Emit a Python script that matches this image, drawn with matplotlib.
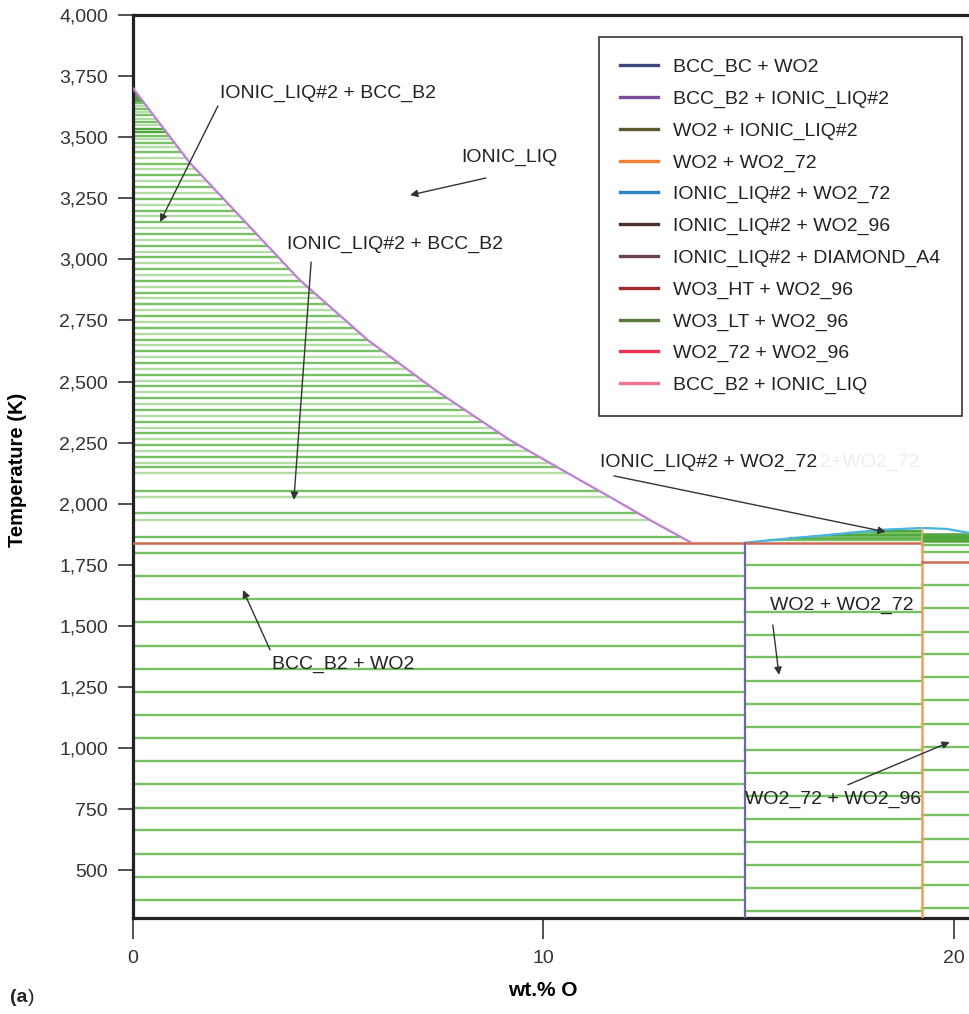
import numpy as np
import matplotlib
matplotlib.use("Agg")
import matplotlib.pyplot as plt
from matplotlib.lines import Line2D
from matplotlib.ticker import FuncFormatter
from matplotlib import font_manager as fm

# ---------------- data ----------------
# liquidus of the (IONIC_LIQ#2 + BCC_B2) region
liq_x = [0.0, 1.39, 4.06, 5.72, 7.36, 9.18, 10.89, 11.62, 12.59, 13.57]
liq_T = [3700, 3394, 2916, 2670, 2466, 2261, 2097, 2028, 1934, 1844]

# liquidus of WO2_72 region
wo72_x = [14.9, 15.1, 17.22, 18.2, 19.24, 19.83, 20.37]
wo72_T = [1840, 1844, 1877, 1893, 1901, 1897, 1881]

eutectic_T = 1840
wo2_x = 14.9          # BCC_B2 + WO2 / WO2 + WO2_72 boundary
wo72_comp = 19.22     # WO2 + WO2_72 / WO2_72 + WO2_96 boundary
wo3_ht_T = 1763       # horizontal line in the right region

# tie-lines (temperatures, K)
tie_liq = [3690, 3682, 3674, 3666, 3658, 3650, 3640, 3628, 3616, 3604, 3590,
           3576, 3562, 3548, 3534, 3520, 3506, 3492, 3478, 3460, 3440,
           3416, 3392, 3368, 3344, 3320, 3296, 3272, 3248, 3224, 3200, 3176,
           3152, 3128, 3104, 3080, 3056, 3032, 3008, 2984, 2960, 2936, 2912,
           2888, 2864, 2840, 2816, 2792, 2768, 2744, 2720, 2696, 2672, 2648,
           2624, 2600, 2576, 2552, 2528, 2504, 2480, 2456, 2432, 2408, 2384,
           2360, 2336, 2312, 2288, 2264, 2240, 2216, 2192, 2168, 2149, 2125,
           2054, 2029, 1961, 1934, 1865]
tie_left = [1797, 1705, 1609, 1515, 1420, 1325, 1230, 1136, 1041, 947, 852,
            757, 664, 567, 474, 379]
tie_mid = [1750, 1655, 1559, 1464, 1371, 1276, 1182, 1088, 994, 900, 804,
           709, 616, 520, 426, 332]
tie_right = [1832, 1804, 1668, 1575, 1477, 1385, 1293, 1195, 1100, 1006, 912,
             819, 725, 630, 534, 440, 344]
tie_72_liq = [1850, 1858, 1866, 1874, 1882, 1890]
tie_right_liq = [1846, 1852, 1858, 1864, 1870, 1876]

yticks = [500, 750, 1000, 1250, 1500, 1750, 2000, 2250, 2500, 2750, 3000,
          3250, 3500, 3750, 4000]
xticks = [0, 10, 20]

legend_labels = ["BCC_BC + WO2", "BCC_B2 + IONIC_LIQ#2", "WO2 + IONIC_LIQ#2",
                 "WO2 + WO2_72", "IONIC_LIQ#2 + WO2_72", "IONIC_LIQ#2 + WO2_96",
                 "IONIC_LIQ#2 + DIAMOND_A4", "WO3_HT + WO2_96", "WO3_LT + WO2_96",
                 "WO2_72 + WO2_96", "BCC_B2 + IONIC_LIQ"]
legend_colors = ["#3b4880", "#7b4c9c", "#5c5a2c", "#f08232", "#2a82c8",
                 "#4a3028", "#6c4252", "#a3282c", "#5a7a3a", "#f0304f", "#f07494"]

# annotations: text, text position (x, T), arrow start, arrow end
annots = [
    ("IONIC_LIQ#2 + BCC_B2", (2.12, 3681), (2.07, 3628), (0.66, 3153)),
    ("IONIC_LIQ", (8.01, 3419), (8.60, 3333), (6.75, 3263)),
    ("IONIC_LIQ#2 + BCC_B2", (3.75, 3063), (4.34, 2989), (3.92, 2016)),
    ("IONIC_LIQ#2 + WO2_72", (11.38, 2171), (11.72, 2114), (18.34, 1885)),
    ("BCC_B2 + WO2", (3.39, 1344), (3.34, 1402), (2.68, 1647)),
    ("WO2 + WO2_72", (15.52, 1586), (15.59, 1504), (15.74, 1300)),
    ("WO2_72 + WO2_96", (14.91, 792), (17.42, 850), (19.90, 1025)),
]

# ---------------- fonts ----------------
names = {f.name for f in fm.fontManager.ttflist}
if "Liberation Sans Narrow" in names:
    FAM, FS = "Liberation Sans Narrow", 17
else:
    FAM, FS = "Liberation Sans", 14
plt.rcParams["font.family"] = [FAM, "DejaVu Sans"]
plt.rcParams["text.color"] = "#222222"

# ---------------- figure ----------------
W, H = 969, 1014
fig = plt.figure(figsize=(W / 100, H / 100), dpi=100)
ax = fig.add_axes([133 / W, 96 / H, (W - 133) / W, (999 - 96) / H])
ax.set_xlim(0, 20.37)
ax.set_ylim(305, 4000)

GREEN_D = "#76c164"
GREEN_L = "#b3dda6"
GREEN_DK = "#4ea63c"

# liquid + BCC tie lines
rT = liq_T[::-1]
rx = liq_x[::-1]
for i, T in enumerate(tie_liq):
    xe = np.interp(T, rT, rx)
    if T >= 3650 or 3515 <= T <= 3535:
        c = GREEN_DK
    else:
        c = GREEN_D if i % 2 == 0 else GREEN_L
    ax.plot([0, xe], [T, T], color=c, lw=1.7, zorder=2, solid_capstyle="butt")

for T in tie_left:
    ax.plot([0, wo2_x], [T, T], color=GREEN_D, lw=1.7, zorder=2)
for T in tie_mid:
    ax.plot([wo2_x, wo72_comp], [T, T], color=GREEN_D, lw=1.7, zorder=2)
for T in tie_right:
    ax.plot([wo72_comp, 20.37], [T, T], color=GREEN_D, lw=1.7, zorder=2)

# WO2_72 + liquid tie lines
wx = np.array(wo72_x)
wT = np.array(wo72_T)
up = wx <= 19.24
for i, T in enumerate(tie_72_liq):
    xs = np.interp(T, wT[up], wx[up])
    ax.plot([xs, wo72_comp], [T, T], color=GREEN_DK if i % 2 else GREEN_D,
            lw=1.7, zorder=2)
for T in tie_right_liq:
    ax.plot([wo72_comp, 20.37], [T, T], color=GREEN_DK, lw=1.8, zorder=2)

# phase boundaries
ax.plot(liq_x, liq_T, color="#bd7fd2", lw=1.6, zorder=4)
ax.plot(wo72_x, wo72_T, color="#46b4dc", lw=1.6, zorder=4)
ax.plot([0, wo72_comp], [eutectic_T, eutectic_T], color="#cf6a52", lw=1.8, zorder=4)
ax.plot([wo2_x, wo2_x], [305, eutectic_T], color="#6a68a8", lw=1.6, zorder=4)
ax.plot([wo72_comp, wo72_comp], [305, eutectic_T], color="#f5a050", lw=1.8, zorder=4)
ax.plot([wo72_comp, wo72_comp], [eutectic_T, 1901], color="#c8b878", lw=1.4, zorder=4)
ax.plot([wo72_comp, 20.37], [wo3_ht_T, wo3_ht_T], color="#cf6a52", lw=1.8, zorder=4)

# faint ghost label partly hidden behind the annotation
ax.text(16.74, 2171, "2+WO2_72", color="#ededed", fontsize=FS,
        ha="left", va="center", zorder=1)

# annotations
for txt, tp, a0, a1 in annots:
    ax.text(tp[0], tp[1], txt, fontsize=FS, ha="left", va="center",
            color="#222222", zorder=6)
    ax.annotate("", xy=a1, xytext=a0,
                arrowprops=dict(arrowstyle="-|>", color="#333333", lw=1.0,
                                mutation_scale=11, shrinkA=0, shrinkB=0),
                zorder=6)

# axes styling
for s in ["left", "bottom", "top"]:
    ax.spines[s].set_linewidth(2.3)
    ax.spines[s].set_color("#222222")
ax.spines["right"].set_visible(False)

ax.set_yticks(yticks)
ax.set_xticks(xticks)
ax.yaxis.set_major_formatter(FuncFormatter(lambda v, p: f"{int(v):,}"))
ax.tick_params(axis="y", length=11, width=1.2, color="#333333", pad=7,
               labelsize=FS, labelcolor="#333333")
ax.tick_params(axis="x", length=15, width=1.2, color="#333333", pad=8,
               labelsize=FS, labelcolor="#333333")

ax.set_xlabel("wt.% O", fontsize=FS + 1, fontweight="bold", va="center")
ax.xaxis.set_label_coords((543 - 133) / 836, (24 - 96) / 903)
ax.set_ylabel("Temperature (K)", fontsize=FS + 0.5, fontweight="bold", va="center")
ax.yaxis.set_label_coords((18 - 133) / 836, (544 - 96) / 903)

fig.text(10 / W, 1 - 998 / H, "(a", fontsize=FS, fontweight="bold",
         ha="left", va="center")
fig.text(10 / W + 18 / W, 1 - 998 / H, ")", fontsize=FS,
         ha="left", va="center")

handles = [Line2D([], [], color=c, lw=2.4) for c in legend_colors]
leg = ax.legend(handles, legend_labels, loc="upper left",
                bbox_to_anchor=(599 / W, 1 - 37 / H), bbox_transform=fig.transFigure,
                borderaxespad=0, frameon=True, fancybox=False, edgecolor="#333333",
                framealpha=1, handlelength=1.95, handletextpad=0.75,
                labelspacing=0.72, borderpad=1.1, fontsize=FS)
leg.get_frame().set_linewidth(1.2)
leg.set_zorder(10)

fig.savefig("out.png", dpi=100)
